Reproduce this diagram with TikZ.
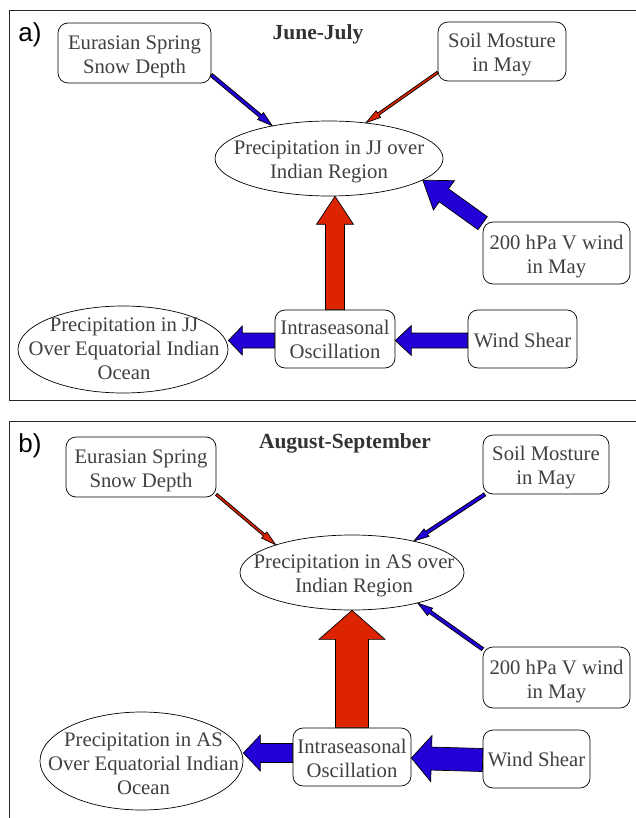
\documentclass[tikz,border=0pt]{standalone}
\usepackage{fontspec}
\setmainfont{Liberation Serif}
\newfontfamily\labfont{Liberation Sans}
\usetikzlibrary{shapes.geometric,calc}
\definecolor{txtgray}{RGB}{64,64,64}
\definecolor{titlegray}{RGB}{51,51,51}
\definecolor{framegray}{RGB}{40,40,40}
\definecolor{arrblue}{RGB}{34,0,214}
\definecolor{arrred}{RGB}{221,36,0}
\tikzset{
  box/.style={draw=black, line width=0.7pt, rounded corners=10pt, align=center,
    text=txtgray, font=\fontsize{20.7}{24}\selectfont, inner sep=0pt},
  ell/.style={draw=black, line width=0.7pt, ellipse, inner sep=0pt},
  elltext/.style={align=center, text=txtgray, font=\fontsize{20.7}{24}\selectfont, inner sep=0pt},
  ttl/.style={text=titlegray, font=\fontsize{21.5}{24}\selectfont\bfseries},
  plab/.style={font=\labfont\fontsize{26}{28}\selectfont, text=black},
  frame/.style={draw=framegray, line width=0.9pt},
  arrline/.style={draw=black, line width=0.7pt, line join=miter}
}
% text lowered by #1 inside a box whose size is unchanged
\newcommand\tx[2]{\raisebox{-#1}[\height][\depth]{\begin{tabular}{@{}c@{}}#2\end{tabular}}}
% #1 from, #2 to, #3 shaft half width, #4 head half width, #5 head length, #6 colour
\newcommand\blockarr[6]{%
  \coordinate (ba-s) at (#1);
  \coordinate (ba-e) at (#2);
  \coordinate (ba-h) at ($(ba-e)!#5!(ba-s)$);
  \draw[arrline, fill=#6]
    ($(ba-s)!#3!90:(ba-e)$) -- ($(ba-h)!#3!90:(ba-e)$) -- ($(ba-h)!#4!90:(ba-e)$)
    -- (ba-e) -- ($(ba-h)!#4!-90:(ba-e)$) -- ($(ba-h)!#3!-90:(ba-e)$)
    -- ($(ba-s)!#3!-90:(ba-e)$) -- cycle;
}
\begin{document}
\begin{tikzpicture}[x=1pt,y=-1pt]
\useasboundingbox (0,0) rectangle (635,818);
\fill[white] (0,0) rectangle (635,818);

% ---------------- panel a ----------------
\draw[frame] (645,10) -- (9,10) -- (9,400) -- (645,400);
\node[plab] (labA) at (30,35) {a)};
\node[ttl] (titleA) at (318,34.5) {June-July};

\node[box, minimum width=153pt, minimum height=60pt] (eurA) at (134.5,53) {\tx{4pt}{Eurasian Spring\\Snow Depth}};
\node[box, minimum width=128pt, minimum height=59pt] (soilA) at (502,51.5) {\tx{3.5pt}{Soil Mosture\\in May}};
\node[ell, minimum width=228pt, minimum height=75pt] (jjA) at (329,158.5) {};
\node[elltext] (jjAt) at (329,161.5) {Precipitation in JJ over\\Indian Region};
\node[box, minimum width=147pt, minimum height=62pt] (hpaA) at (556.5,253) {\tx{4pt}{200 hPa V wind\\in May}};
\node[ell, minimum width=210pt, minimum height=87pt] (oceanA) at (123,349.5) {};
\node[elltext] (oceanAt) at (124,348.5) {Precipitation in JJ\\Over Equatorial Indian\\Ocean};
\node[box, minimum width=120pt, minimum height=58pt] (intraA) at (335,339) {\tx{3pt}{Intraseasonal\\Oscillation}};
\node[box, minimum width=109pt, minimum height=58pt] (windA) at (522.5,339) {\tx{4pt}{Wind Shear}};

\blockarr{eurA.-16}{jjA.150}{1.8pt}{4.5pt}{15pt}{arrblue}
\blockarr{soilA.-162}{jjA.44}{1.3pt}{4pt}{15pt}{arrred}
\blockarr{hpaA.158}{jjA.-13}{8pt}{18pt}{26pt}{arrblue}
\blockarr{intraA.north}{intraA.north |- jjA.south}{9.5pt}{18.5pt}{28pt}{arrred}
\blockarr{[yshift=-1.5pt]intraA.west}{[yshift=-1.5pt]intraA.west -| oceanA.east}{7.5pt}{14.5pt}{14pt}{arrblue}
\blockarr{[yshift=-1.5pt]windA.west}{[yshift=-1.5pt]intraA.east}{7.5pt}{15pt}{16pt}{arrblue}

% ---------------- panel b ----------------
\draw[frame] (645,421) -- (9,421) -- (9,830);
\node[plab] (labB) at (30,446) {b)};
\node[ttl] (titleB) at (345,443.5) {August-September};

\node[box, minimum width=150pt, minimum height=60pt] (eurB) at (141,467) {\tx{4pt}{Eurasian Spring\\Snow Depth}};
\node[box, minimum width=126pt, minimum height=59pt] (soilB) at (546,464.5) {\tx{3pt}{Soil Mosture\\in May}};
\node[ell, minimum width=224pt, minimum height=75pt] (jjB) at (352,572.5) {};
\node[elltext] (jjBt) at (354,575.5) {Precipitation in AS over\\Indian Region};
\node[box, minimum width=147pt, minimum height=61pt] (hpaB) at (556.5,677.5) {\tx{4.5pt}{200 hPa V wind\\in May}};
\node[ell, minimum width=203pt, minimum height=98pt] (oceanB) at (141.5,761) {};
\node[elltext] (oceanBt) at (143.5,764) {Precipitation in AS\\Over Equatorial Indian\\Ocean};
\node[box, minimum width=118pt, minimum height=58pt] (intraB) at (352,757) {\tx{4pt}{Intraseasonal\\Oscillation}};
\node[box, minimum width=107pt, minimum height=58pt] (windB) at (536.5,759) {\tx{3pt}{Wind Shear}};

\blockarr{eurB.-20}{jjB.160}{1.3pt}{4pt}{15pt}{arrred}
\blockarr{soilB.-154}{jjB.27}{1.8pt}{4.5pt}{15pt}{arrblue}
\blockarr{hpaB.159}{jjB.-25}{1.8pt}{4.5pt}{15pt}{arrblue}
\blockarr{intraB.north}{jjB.south}{16.5pt}{33pt}{29pt}{arrred}
\blockarr{[yshift=4pt]intraB.west}{[yshift=4pt]intraB.west -| oceanB.east}{9.5pt}{18pt}{17pt}{arrblue}
\blockarr{[yshift=-1pt]windB.west}{[yshift=-1pt]intraB.east}{11.5pt}{23pt}{20pt}{arrblue}
\end{tikzpicture}
\end{document}
